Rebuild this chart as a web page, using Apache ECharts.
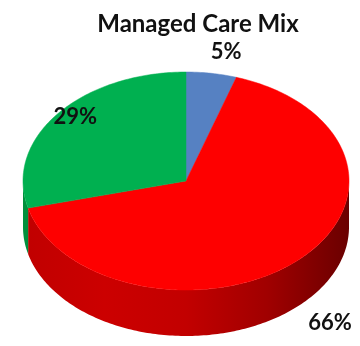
<!DOCTYPE html>
<html>
<head>
<meta charset="utf-8">
<script src="https://cdn.jsdelivr.net/npm/echarts@6/dist/echarts.min.js"></script>
<style>html,body{margin:0;padding:0;background:#fff;}#c{width:360px;height:346px;}</style>
</head>
<body>
<div id="c"></div>
<script>
var title = 'Managed Care Mix';
var categories = ['Blue', 'Red', 'Green'];
var values = [5, 66, 29];
var labels = ['5%', '66%', '29%'];

// styles
var topColors = ['#5681c2', '#fe0000', '#00b050'];
var sideColors = [
  ['#3d5f95', '#3d5f95', '#2d4a78'],
  ['#c00000', '#cc0000', '#c20000', '#a00000', '#6a0000'],
  ['#008f3c', '#009a42', '#008f3c']
];
var labelK = [[1.57, 1.20], [1.29, 1.21], [0.86, 0.96]];
var CX = 186, CY = 181, RX = 163, RY = 109, DEPTH = 46;

var total = values.reduce(function (a, b) { return a + b; }, 0);
var starts = [];
(function () { var acc = 0; values.forEach(function (v) { starts.push(acc / total * 360); acc += v; }); })();

function pt(a, dy) {
  var r = a * Math.PI / 180;
  return [CX + RX * Math.sin(r), CY - RY * Math.cos(r) + (dy || 0)];
}
function arc(a1, a2, dy) {
  var pts = [], n = Math.max(2, Math.ceil(Math.abs(a2 - a1)));
  for (var i = 0; i <= n; i++) pts.push(pt(a1 + (a2 - a1) * i / n, dy));
  return pts;
}
function grad(stops) {
  return {
    type: 'linear', x: CX - RX, y: 0, x2: CX + RX, y2: 0, global: true,
    colorStops: stops.map(function (c, i) { return { offset: i / (stops.length - 1), color: c }; })
  };
}

var chart = echarts.init(document.getElementById('c'), null, { renderer: 'canvas' });
chart.setOption({
  backgroundColor: '#ffffff',
  animation: false,
  title: {
    text: title, left: 193, top: 7, textAlign: 'center',
    textStyle: { fontFamily: 'Lato', fontWeight: 'bold', fontSize: 24, color: '#111' }
  },
  series: [
    {
      type: 'custom', coordinateSystem: 'none', z: 1,
      data: values.map(function (v, i) { return { name: categories[i], value: v }; }),
      renderItem: function (params, api) {
        var i = params.dataIndex;
        var a1 = starts[i], a2 = a1 + api.value(0) / total * 360;
        var s = Math.max(a1, 90), e = Math.min(a2, 270);
        if (e <= s) return { type: 'group', children: [] };
        var pts = arc(s, e, 0).concat(arc(e, s, DEPTH));
        return { type: 'polygon', shape: { points: pts }, style: { fill: grad(sideColors[i]), stroke: null } };
      }
    },
    {
      type: 'custom', coordinateSystem: 'none', z: 2,
      data: values.map(function (v, i) { return { name: categories[i], value: v }; }),
      renderItem: function (params, api) {
        var i = params.dataIndex;
        var a1 = starts[i], a2 = a1 + api.value(0) / total * 360;
        var pts = [[CX, CY]].concat(arc(a1, a2, 0));
        var mid = (a1 + a2) / 2 * Math.PI / 180;
        var k = labelK[i];
        var ly = CY - RY * k[1] * Math.cos(mid) + (Math.cos(mid) < 0 ? DEPTH : 0);
        var lx = CX + RX * k[0] * Math.sin(mid);
        return {
          type: 'group',
          children: [
            { type: 'polygon', shape: { points: pts }, style: { fill: topColors[i], stroke: topColors[i], lineWidth: 0.5 } },
            { type: 'text', x: lx, y: ly, z2: 10,
              style: { text: labels[i], fontFamily: 'Lato', fontWeight: 'bold', fontSize: 22, fill: '#111', align: 'center', verticalAlign: 'middle' } }
          ]
        };
      }
    }
  ]
});
</script>
</body>
</html>
